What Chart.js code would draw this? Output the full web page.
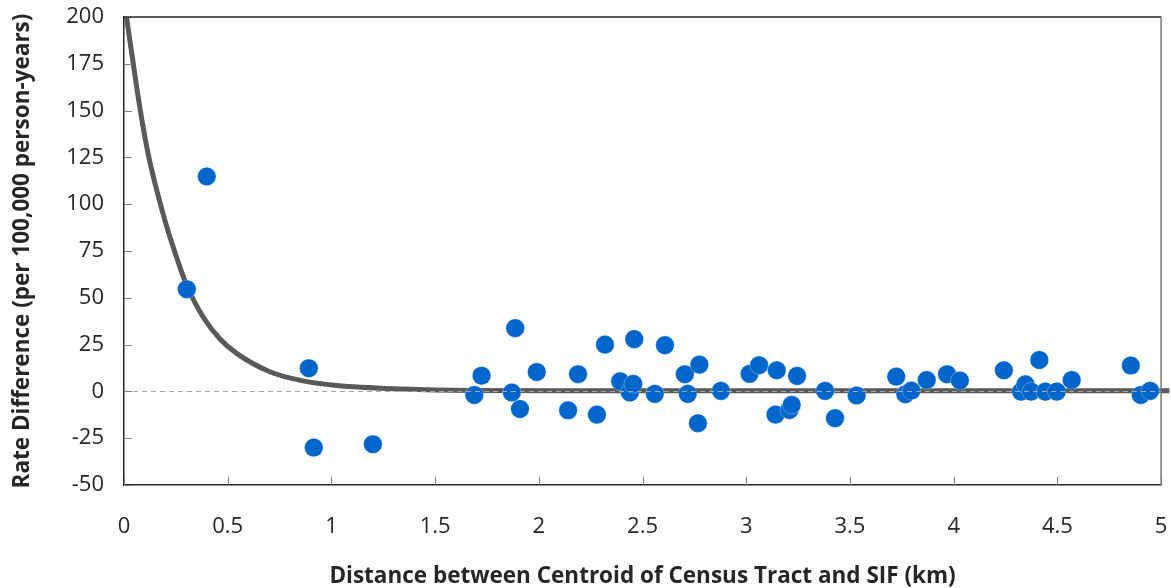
<!DOCTYPE html>
<html>
<head>
<meta charset="utf-8">
<script src="https://cdn.jsdelivr.net/npm/chart.js@4.4.1/dist/chart.umd.min.js"></script>
<style>
  html, body { margin: 0; padding: 0; background: #ffffff; }
  #wrap { width: 1171px; height: 588px; }
</style>
</head>
<body>
<div id="wrap"><canvas id="c" width="1171" height="588"></canvas></div>
<script>
// ---- Data ----
const distKm = [0.303, 0.399, 0.891, 0.915, 1.200, 1.689, 1.724, 1.870, 1.886, 1.909,
  1.990, 2.141, 2.189, 2.280, 2.319, 2.392, 2.439, 2.455, 2.460, 2.559,
  2.608, 2.704, 2.718, 2.767, 2.774, 2.878, 3.016, 3.062, 3.141, 3.147,
  3.208, 3.219, 3.245, 3.380, 3.428, 3.532, 3.723, 3.767, 3.796, 3.870,
  3.968, 4.030, 4.242, 4.325, 4.346, 4.373, 4.413, 4.442, 4.497, 4.569,
  4.854, 4.902, 4.947];
const rateDiff = [54.6, 114.8, 12.4, -30.0, -28.2, -1.9, 8.4, -0.6, 33.8, -9.4,
  10.4, -10.1, 9.2, -12.4, 25.0, 5.4, -0.6, 4.0, 27.9, -1.3,
  24.7, 9.2, -1.3, -17.0, 14.3, 0.3, 9.4, 14.0, -12.4, 11.3,
  -9.9, -7.2, 8.3, 0.3, -14.3, -2.2, 7.9, -1.5, 0.4, 6.1,
  9.2, 5.8, 11.3, -0.1, 3.8, -0.1, 16.8, -0.1, -0.1, 6.1,
  13.8, -1.9, 0.3];

// fitted trend curve
const curveX = [0.012, 0.046, 0.078, 0.118, 0.188, 0.223, 0.303, 0.383, 0.463, 0.543,
  0.703, 0.863, 1.025, 1.345, 1.667, 2.2, 5.04];
const curveY = [200, 174, 150.5, 126, 95, 82, 56.5, 39.5, 28, 20.3,
  10.5, 5.6, 3.2, 1.3, 0.5, 0.3, 0.3];

const xMin = 0, xMax = 5, xStep = 0.5;
const yMin = -50, yMax = 200, yStep = 25;
const xTitle = 'Distance between Centroid of Census Tract and SIF (km)';
const yTitle = 'Rate Difference (per 100,000 person-years)';

const pts = distKm.map((x, i) => ({ x: x, y: rateDiff[i] }));
const curve = curveX.map((x, i) => ({ x: x, y: curveY[i] }));

const tickFont = { family: "'Open Sans'", size: 22 };
const titleFont = { family: "'Open Sans'", size: 22.5, weight: 'bold' };

const framePlugin = {
  id: 'frame',
  afterDatasetsDraw(chart) {
    const { ctx, chartArea: a, scales } = chart;
    ctx.save();
    // dashed zero reference line
    const y0 = Math.round(scales.y.getPixelForValue(0)) + 0.5;
    ctx.strokeStyle = '#a6a6a6';
    ctx.lineWidth = 1;
    ctx.setLineDash([5, 4]);
    ctx.beginPath();
    ctx.moveTo(a.left, y0);
    ctx.lineTo(a.right, y0);
    ctx.stroke();
    ctx.setLineDash([]);
    // inside tick marks
    ctx.strokeStyle = '#7f7f7f';
    ctx.lineWidth = 1;
    scales.x.ticks.forEach(t => {
      const px = Math.round(scales.x.getPixelForValue(t.value)) + 0.5;
      ctx.beginPath(); ctx.moveTo(px, a.bottom); ctx.lineTo(px, a.bottom - 8); ctx.stroke();
    });
    scales.y.ticks.forEach(t => {
      const py = Math.round(scales.y.getPixelForValue(t.value)) + 0.5;
      ctx.beginPath(); ctx.moveTo(a.left, py); ctx.lineTo(a.left + 8, py); ctx.stroke();
    });
    // top and right frame
    ctx.strokeStyle = '#262626';
    ctx.lineWidth = 1.5;
    ctx.beginPath(); ctx.moveTo(a.left, a.top); ctx.lineTo(a.right, a.top); ctx.stroke();
    ctx.strokeStyle = '#767676';
    ctx.lineWidth = 1.5;
    ctx.beginPath(); ctx.moveTo(a.right, a.top); ctx.lineTo(a.right, a.bottom); ctx.stroke();
    ctx.restore();
  }
};

new Chart(document.getElementById('c'), {
  type: 'scatter',
  data: {
    datasets: [
      {
        label: 'Rate difference',
        data: pts,
        backgroundColor: '#0066cc',
        borderColor: 'rgba(255,255,255,0.5)',
        borderWidth: 0.6,
        pointRadius: 9.3,
        pointHoverRadius: 9.3,
        order: 1
      },
      {
        label: 'Trend',
        type: 'line',
        data: curve,
        showLine: true,
        borderColor: '#595959',
        borderWidth: 5,
        pointRadius: 0,
        fill: false,
        cubicInterpolationMode: 'monotone',
        clip: { left: 5, top: 3, right: 10, bottom: 5 },
        order: 2
      }
    ]
  },
  options: {
    responsive: false,
    animation: false,
    events: [],
    layout: { padding: { top: 17, right: 7, bottom: 0, left: 0 } },
    plugins: { legend: { display: false }, tooltip: { enabled: false } },
    scales: {
      x: {
        type: 'linear',
        min: xMin, max: xMax,
        afterFit: s => { s.height = 103; s.paddingLeft = 0; s.paddingRight = 0; },
        ticks: {
          stepSize: xStep,
          font: tickFont,
          color: '#262626',
          padding: 29,
          maxRotation: 0,
          callback: v => String(Math.round(v * 10) / 10)
        },
        grid: { display: true, drawOnChartArea: false, drawTicks: false },
        border: { display: true, color: '#262626', width: 1.5 },
        title: {
          display: true, text: xTitle, font: titleFont,
          color: '#262626', padding: { top: 0, bottom: -2 }
        }
      },
      y: {
        type: 'linear',
        min: yMin, max: yMax,
        afterFit: s => { s.width = 124; s.paddingTop = 0; s.paddingBottom = 0; },
        ticks: {
          stepSize: yStep,
          font: tickFont,
          color: '#262626',
          padding: 20
        },
        grid: { display: true, drawOnChartArea: false, drawTicks: false },
        border: { display: true, color: '#262626', width: 1.5 },
        title: {
          display: true, text: yTitle, font: titleFont,
          color: '#262626', padding: { top: 9, bottom: 0 }
        }
      }
    }
  },
  plugins: [framePlugin]
});
</script>
</body>
</html>
